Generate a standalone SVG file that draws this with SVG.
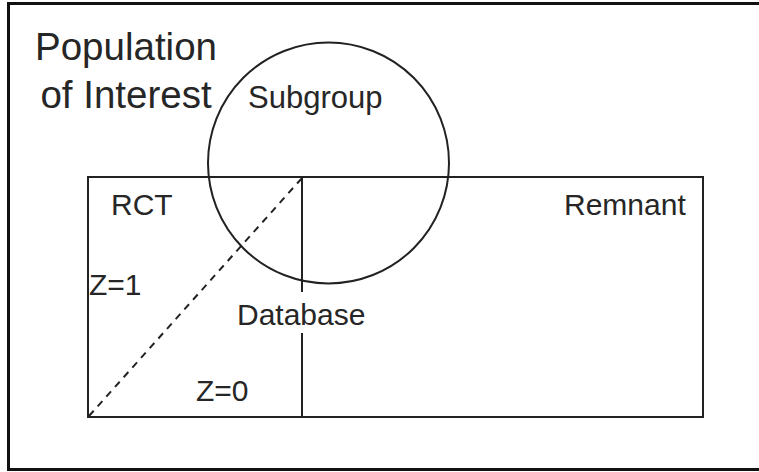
<svg xmlns="http://www.w3.org/2000/svg" width="759" height="472" viewBox="0 0 759 472">
<style>
.lbl{font-family:"Liberation Sans",Arial,sans-serif;fill:#262626;}
.s{font-size:30px;}
.big{font-size:38.5px;}
.ln{fill:none;stroke:#222;stroke-width:2;}
</style>
<rect x="0" y="0" width="759" height="472" fill="#ffffff"/>
<g id="population">
<rect x="8.5" y="3.5" width="760" height="466" fill="none" stroke="#111" stroke-width="3"/>
<text class="lbl big" x="126" y="60" text-anchor="middle">Population</text>
<text class="lbl big" x="126" y="108" text-anchor="middle">of Interest</text>
</g>
<g id="database">
<rect class="ln" x="88" y="177" width="615" height="240"/>
<text class="lbl s" x="237" y="325">Database</text>
</g>
<g id="rct">
<text class="lbl s" x="111" y="215">RCT</text>
<text class="lbl s" x="89" y="295">Z=1</text>
<text class="lbl s" x="196" y="401">Z=0</text>
</g>
<g id="remnant">
<text class="lbl s" x="564" y="215">Remnant</text>
</g>
<g id="subgroup">
<circle class="ln" cx="328.5" cy="163" r="120.5"/>
<text class="lbl s" x="248" y="108" style="font-size:31px">Subgroup</text>
</g>
<g id="connectors">
<line class="ln" x1="302" y1="177" x2="302" y2="292"/>
<line class="ln" x1="302" y1="333" x2="302" y2="417"/>
<line class="ln" x1="89" y1="416" x2="302" y2="178" stroke-dasharray="7 6"/>
</g>
</svg>
